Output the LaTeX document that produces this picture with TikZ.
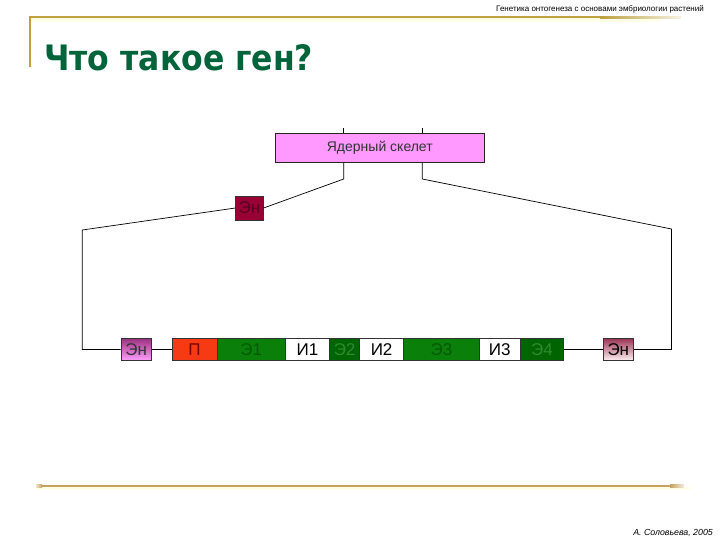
\documentclass[tikz,border=0pt]{standalone}
\usepackage{fontspec}
\usepackage{graphicx}
\setmainfont{Liberation Sans}
\newfontfamily\titlefont{DejaVu Sans}
\definecolor{gold}{HTML}{BFA040}
\definecolor{tan}{HTML}{C8A060}
\definecolor{titlegreen}{HTML}{00643A}
\definecolor{pinkbox}{HTML}{FF99FF}
\definecolor{exonA}{HTML}{0A800A}
\definecolor{exonAtext}{HTML}{005A00}
\definecolor{exonB}{HTML}{006400}
\definecolor{exonBtext}{HTML}{2E8B2E}
\definecolor{promo}{HTML}{F53A14}
\definecolor{promotext}{HTML}{7A0000}
\definecolor{enh}{HTML}{990033}
\definecolor{enhtext}{HTML}{550022}
\definecolor{enLtop}{HTML}{9A3080}
\definecolor{enLbot}{HTML}{FFA0FF}
\definecolor{enRtop}{HTML}{9A3355}
\definecolor{enRbot}{HTML}{FFF2F4}
\begin{document}
\begin{tikzpicture}[x=1pt,y=-1pt,
  seg/.style={draw=black!80, line width=0.6pt, minimum height=22.5pt, inner sep=0pt, anchor=west, font=\fontsize{17}{19}\selectfont},
  conn/.style={draw=black, line width=0.7pt}]
\useasboundingbox (0,0) rectangle (720,540);
\fill[white] (0,0) rectangle (720,540);
% header
\node[anchor=east, inner sep=0pt, font=\fontsize{8}{9}\selectfont] (hdr) at (704,9.5) {Генетика онтогенеза с основами эмбриологии растений};
% top gold lines
\fill[yellow!10] (31,18.5) rectangle (660,22);
\fill[gold] (29,16.2) rectangle (600,18.2);
\shade[left color=gold, right color=gold!15] (600,16.2) rectangle (681,18.2);
\fill[gold] (28.7,16.2) rectangle (30.5,67);
% title
\node[anchor=base west, inner sep=0pt, text=titlegreen, font=\titlefont\bfseries\fontsize{35}{40}\selectfont] (title) at (44,71) {\scalebox{0.9}[1]{Что такое ген?}};
% nuclear skeleton
\node[draw=black!85, line width=0.7pt, fill=pinkbox, minimum width=209pt, minimum height=29pt, inner sep=0pt, text=black!80, font=\fontsize{14}{16}\selectfont] (ys) at (379.8,147.8) {Ядерный скелет};
\coordinate (tl) at (343.7,128);
\coordinate (tr) at (422.3,128);
\draw[conn] (tl) -- (tl |- ys.north);
\draw[conn] (tr) -- (tr |- ys.north);
% middle enhancer
\node[draw=black!80, line width=0.6pt, fill=enh, minimum width=27.6pt, minimum height=24pt, inner sep=0pt, text=enhtext, font=\fontsize{17}{19}\selectfont] (enm) at (249.5,208) {Эн};
% bottom row
\node[seg, top color=enLtop, bottom color=enLbot, minimum width=30.3pt, text=black!80] (enL) at (120.7,349.5) {Эн};
\node[seg, fill=promo, minimum width=45pt, text=promotext] (P) at (171.7,349.5) {П};
\node[seg, fill=exonA, minimum width=68.3pt, text=exonAtext] (E1) at (216.7,349.5) {Э1};
\node[seg, fill=white, minimum width=44.3pt, text=black] (I1) at (285,349.5) {И1};
\node[seg, fill=exonB, minimum width=30pt, text=exonBtext] (E2) at (329.3,349.5) {Э2};
\node[seg, fill=white, minimum width=44pt, text=black] (I2) at (359.3,349.5) {И2};
\node[seg, fill=exonA, minimum width=75.7pt, text=exonAtext] (E3) at (403.3,349.5) {Э3};
\node[seg, fill=white, minimum width=41pt, text=black] (I3) at (479,349.5) {И3};
\node[seg, fill=exonB, minimum width=43.3pt, text=exonBtext] (E4) at (520,349.5) {Э4};
\node[seg, top color=enRtop, bottom color=enRbot, minimum width=30.6pt, text=black] (enR) at (602.7,349.5) {Эн};
% connectors
\coordinate (bl) at (343.7,179);
\coordinate (br) at (422.3,179);
\coordinate (cl) at (82.3,230);
\coordinate (cr) at (671.5,229);
\draw[conn] (bl |- ys.south) -- (bl) -- (enm.east);
\draw[conn] (enm.west) -- (cl) |- (enL.west);
\draw[conn] (br |- ys.south) -- (br) -- (cr) |- (enR.east);
\draw[conn] (enL.east) -- (P.west);
\draw[conn] (E4.east) -- (enR.west);
% bottom line
\fill[yellow!10] (36,487) rectangle (690,490);
\shade[left color=tan!30, right color=tan] (36,484.5) rectangle (42,487);
\fill[tan] (42,484.5) rectangle (670,487);
\shade[left color=tan, right color=tan!20] (670,484.5) rectangle (684,487);
% footer
\node[anchor=east, inner sep=0pt, font=\itshape\fontsize{8.8}{10}\selectfont] (ftr) at (713,533) {А. Соловьева, 2005};
\end{tikzpicture}
\end{document}
